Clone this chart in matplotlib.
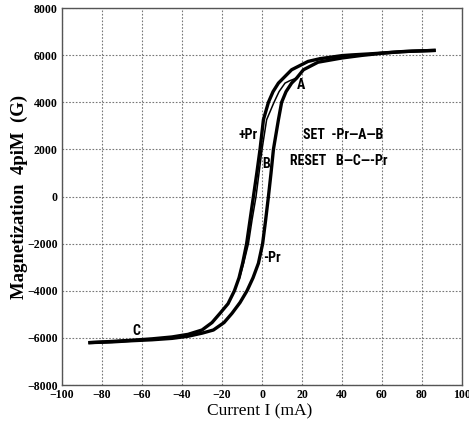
import matplotlib
matplotlib.use("Agg")
import matplotlib.pyplot as plt

# outer loop, upper (descending) branch
upper_x = [86, 75, 65, 55, 45, 40, 29, 23, 14.8, 8.2, 5.5, 3.2, 0.7, -1, -2.6, -4.3, -6,
           -7.7, -9.7, -11.5, -13.8, -17, -21, -25, -30, -37, -45, -55, -65, -75, -86]
upper_y = [6200, 6170, 6120, 6060, 6010, 5980, 5850, 5733, 5380, 4814, 4450, 4000, 3260,
           2000, 1000, 0, -1000, -2000, -2832, -3450, -4000, -4550, -4956, -5350, -5665,
           -5850, -5960, -6040, -6100, -6150, -6200]

# outer loop, lower (ascending) branch
lower_x = [-86, -75, -65, -55, -45, -37, -30, -24.3, -19, -15, -11, -7.5, -4.5, -1.8, 0.3,
           1.8, 3.2, 4.5, 5.7, 8.2, 9.8, 12, 14.8, 17.3, 20.7, 28, 40, 50, 60, 70, 86]
lower_y = [-6200, -6170, -6120, -6080, -6020, -5930, -5800, -5665, -5350, -4956, -4500,
           -4000, -3450, -2832, -2000, -1000, 0, 1000, 2000, 3260, 4000, 4450, 4814, 5025,
           5380, 5700, 5880, 5990, 6080, 6150, 6200]

# minor curve A -> B
minor_x = [17.3, 14, 11.5, 8.5, 6, 2.3, 0, -1.5, -3, -5, -6.8, -9.2, -11.2]
minor_y = [5025, 4920, 4814, 4450, 4000, 3260, 2000, 1000, 0, -1000, -2000, -2832, -3450]

labels = ["A", "+Pr", "B", "-Pr", "C", "SET  -Pr\u2014A\u2014B", "RESET   B\u2014C\u2014-Pr"]
label_x = [17.5, -12, 0.3, 0.5, -65, 20.5, 14]
label_y = [4720, 2620, 1400, -2600, -5720, 2620, 1500]

xticks = list(range(-100, 101, 20))
yticks = list(range(-8000, 8001, 2000))

fig = plt.figure(figsize=(4.69, 4.26), dpi=100)
ax = fig.add_axes([0.1322, 0.0962, 0.853, 0.885])

ax.plot(upper_x, upper_y, color="black", linewidth=2.4, solid_joinstyle="round")
ax.plot(lower_x, lower_y, color="black", linewidth=2.4, solid_joinstyle="round")
ax.plot(minor_x, minor_y, color="black", linewidth=1.1)

lab_font = ["Roboto Condensed", "DejaVu Sans Condensed", "Liberation Sans Narrow", "Roboto"]
for t, x, y in zip(labels, label_x, label_y):
    ax.text(x, y, t, fontsize=10, fontweight="bold", family=lab_font,
            ha="left", va="center")

ax.set_xlim(-100, 100)
ax.set_ylim(-8000, 8000)
ax.set_xticks(xticks)
ax.set_yticks(yticks)
ax.grid(True, color="#777777", linestyle=(0, (1.5, 1.5)), linewidth=0.8)
ax.tick_params(length=0, pad=3)
for lab in ax.get_xticklabels() + ax.get_yticklabels():
    lab.set_family("Liberation Serif")
    lab.set_fontweight("bold")
    lab.set_fontsize(8.5)
for s in ax.spines.values():
    s.set_color("#555555")
    s.set_linewidth(1.0)

ax.set_xlabel("Current I (mA)", family="Liberation Serif", fontsize=12.5)
ax.set_ylabel("Magnetization  4piM  (G)", family="Liberation Serif", fontsize=13.5,
              fontweight="bold")
ax.xaxis.set_label_coords(0.495, -0.048)
ax.yaxis.set_label_coords(-0.085, 0.5)

fig.savefig("out.png", dpi=100)
